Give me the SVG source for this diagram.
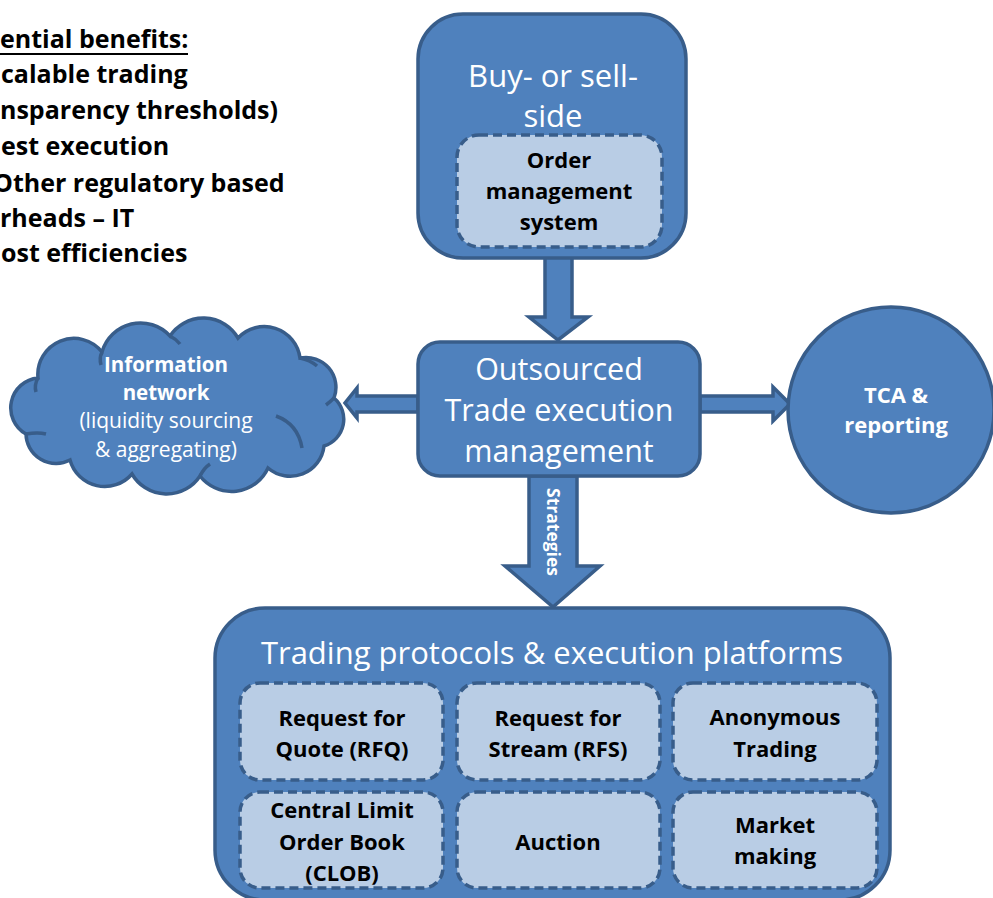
<svg xmlns="http://www.w3.org/2000/svg" width="993" height="898" viewBox="0 0 993 898">
<style>
.shape{fill:#4F81BD;stroke:#385D8A;stroke-width:3.5;stroke-linejoin:miter}
.inner{fill:#B9CDE5;stroke:#385D8A;stroke-width:3.5;stroke-dasharray:9 5}
.inline{fill:none;stroke:#385D8A;stroke-width:3.5}
.wt{font-family:"Open Sans","Noto Sans",sans-serif;fill:#FFFFFF;text-anchor:middle}
.bt{font-family:"Open Sans","Noto Sans",sans-serif;font-weight:bold;fill:#000000;text-anchor:middle;font-size:22px}
.lt{font-family:"Open Sans","Noto Sans",sans-serif;font-weight:bold;fill:#000000;font-size:25px}
</style>
<rect width="993" height="898" fill="#FFFFFF"/>

<g id="benefits">
<text class="lt" x="0" y="48">ential benefits:</text>
<line x1="0" y1="54" x2="188" y2="54" stroke="#000" stroke-width="2"/>
<text class="lt" x="1" y="83">calable trading</text>
<text class="lt" x="0" y="119">nsparency thresholds)</text>
<text class="lt" x="1" y="155">est execution</text>
<text class="lt" x="-7" y="192">Other regulatory based</text>
<text class="lt" x="0" y="227">rheads – IT</text>
<text class="lt" x="1" y="262">ost efficiencies</text>
</g>

<g id="connectors">
<path class="shape" d="M545,245 L572,245 L572,317 L588,317 L558,340 L529,317 L545,317 Z"/>
<path class="shape" d="M418,396 L357,396 L357,388 L345,403 L357,418 L357,412 L418,412 Z"/>
<path class="shape" d="M700,396 L773,396 L773,387 L790,404 L773,421 L773,412 L700,412 Z"/>
<path class="shape" d="M529,476 L577,476 L577,566 L600,566 L553,607 L505,566 L529,566 Z"/>
<text class="wt" font-weight="bold" font-size="17.5" transform="translate(547,532) rotate(90)" x="0" y="0">Strategies</text>
</g>

<g id="buy-sell-side">
<rect class="shape" x="418" y="14" width="268" height="244" rx="45"/>
<text class="wt" font-size="31" x="553" y="87">Buy- or sell-</text>
<text class="wt" font-size="31" x="553" y="127">side</text>
</g>

<g id="oms">
<rect class="inner" x="457" y="135" width="205" height="112" rx="22"/>
<text class="bt" x="559" y="168">Order</text>
<text class="bt" x="559" y="199">management</text>
<text class="bt" x="559" y="230">system</text>
</g>

<g id="outsourced">
<rect class="shape" x="418" y="342" width="282" height="134" rx="22"/>
<text class="wt" font-size="30.5" x="559" y="380">Outsourced</text>
<text class="wt" font-size="30.5" x="559" y="421">Trade execution</text>
<text class="wt" font-size="30.5" x="559" y="462">management</text>
</g>

<g id="information-network">
<path class="shape" d="M26,434 A30,30 0 0 1 38,378 A36,36 0 0 1 102,352 A40,40 0 0 1 170,336 A40,40 0 0 1 238,338 A36,36 0 0 1 300,358 A30,30 0 0 1 334,398 A28,28 0 0 1 324,446 A34,34 0 0 1 268,468 A40,40 0 0 1 200,476 A40,40 0 0 1 132,474 A36,36 0 0 1 70,460 A30,30 0 0 1 26,434 Z"/>
<path class="inline" d="M38,378 Q34,385 36,392"/>
<path class="inline" d="M26,434 Q38,432 46,434"/>
<path class="inline" d="M102,352 Q99,358 101,365"/>
<path class="inline" d="M170,336 Q176,339 180,344"/>
<path class="inline" d="M300,358 Q310,360 317,366"/>
<path class="inline" d="M334,398 Q330,402 326,405"/>
<path class="inline" d="M276,416 Q298,424 302,448"/>
<path class="inline" d="M200,476 Q204,468 210,464"/>
<text class="wt" font-weight="bold" font-size="20.5" x="166" y="372">Information</text>
<text class="wt" font-weight="bold" font-size="20.5" x="166" y="400">network</text>
<text class="wt" font-size="21" x="166" y="428">(liquidity sourcing</text>
<text class="wt" font-size="21" x="166" y="457">&amp; aggregating)</text>
</g>

<g id="tca">
<circle class="shape" cx="891" cy="410" r="103"/>
<text class="wt" font-weight="bold" font-size="22" x="896" y="403">TCA &amp;</text>
<text class="wt" font-weight="bold" font-size="22" x="896" y="433">reporting</text>
</g>

<g id="trading-protocols">
<rect class="shape" x="215" y="608" width="675" height="292" rx="50"/>
<text class="wt" font-size="31" x="552" y="664">Trading protocols &amp; execution platforms</text>
</g>

<g id="rfq">
<rect class="inner" x="240" y="683" width="203" height="97" rx="20"/>
<text class="bt" x="342" y="726">Request for</text>
<text class="bt" x="342" y="757">Quote (RFQ)</text>
</g>
<g id="rfs">
<rect class="inner" x="457" y="683" width="203" height="97" rx="20"/>
<text class="bt" x="558" y="726">Request for</text>
<text class="bt" x="558" y="757">Stream (RFS)</text>
</g>
<g id="anonymous">
<rect class="inner" x="673" y="683" width="204" height="97" rx="20"/>
<text class="bt" x="775" y="725">Anonymous</text>
<text class="bt" x="775" y="757">Trading</text>
</g>
<g id="clob">
<rect class="inner" x="240" y="792" width="203" height="96" rx="20"/>
<text class="bt" x="342" y="818">Central Limit</text>
<text class="bt" x="342" y="850">Order Book</text>
<text class="bt" x="342" y="881">(CLOB)</text>
</g>
<g id="auction">
<rect class="inner" x="457" y="792" width="203" height="96" rx="20"/>
<text class="bt" x="558" y="850">Auction</text>
</g>
<g id="market-making">
<rect class="inner" x="673" y="792" width="204" height="96" rx="20"/>
<text class="bt" x="775" y="833">Market</text>
<text class="bt" x="775" y="864">making</text>
</g>
</svg>
